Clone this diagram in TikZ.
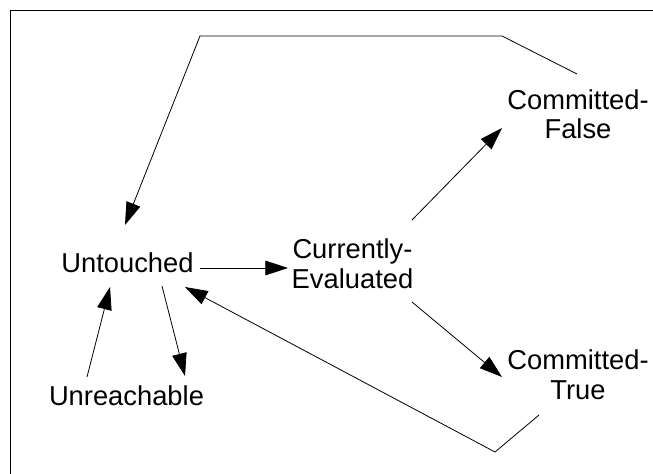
\documentclass[tikz,border=0pt]{standalone}
\usepackage{fontspec}
\setmainfont{Liberation Sans}
\usetikzlibrary{arrows.meta,calc}
\tikzstyle{state} = [inner sep=0pt, anchor=base, align=center,
  font=\fontsize{20.5}{22}\selectfont]
\tikzstyle{frame} = [line width=1pt]
\tikzstyle{diredge} = [line width=0.6pt, -{Triangle[length=17pt,width=11pt]}]

\begin{document}
\begin{tikzpicture}[x=0.75pt,y=-0.75pt]
    \useasboundingbox (0,0) rectangle (653,474);
    \draw[frame] (10.5,474) -- (10.5,10.5) -- (653,10.5);
    \node[state] (untouched) at (127.5,272) {Untouched};
    \node[state] (unreach) at (126.5,405) {Unreachable};
    \node[state] (current) at (352.5,288) {Currently-\\Evaluated};
    \node[state] (cfalse) at (578,139) {Committed-\\False};
    \node[state] (ctrue) at (578,399) {Committed-\\True};
    \draw[diredge] ($(unreach.base)+(-39.5,-28)$) -- ($(untouched.base)+(-17.5,15)$);
    \draw[diredge] ($(untouched.base)+(34.5,14)$) -- ($(unreach.base)+(58.5,-29)$);
    \draw[diredge] ($(untouched.base)+(72.5,-4)$) -- ($(current.base)+(-64.5,-20)$);
    \draw[diredge] ($(current.base)+(59.5,-68)$) -- ($(cfalse.base)+(-76,-11)$);
    \draw[diredge] ($(current.base)+(59.5,14)$) -- ($(ctrue.base)+(-76,-22)$);
    % back to untouched
    \draw[diredge] ($(cfalse.base)+(-1,-65)$) -- ++(-75,-38) -- ++(-302,0)
        -- ($(untouched.base)+(-2.5,-47)$);
    \draw[diredge] ($(ctrue.base)+(-39,16)$) -- ++(-44,37)
        -- ($(untouched.base)+(57.5,15)$);
\end{tikzpicture}
\end{document}
